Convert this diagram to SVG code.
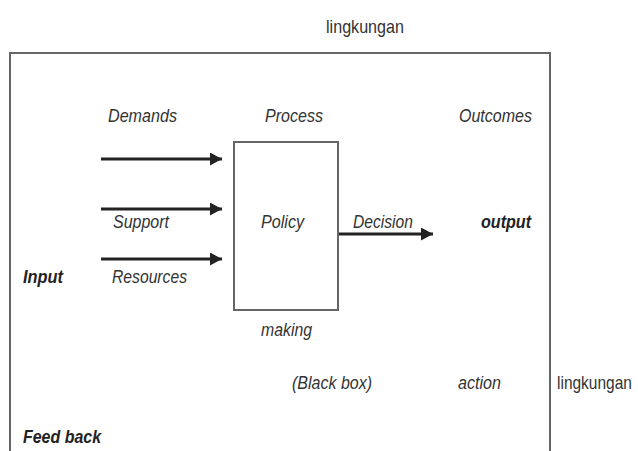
<svg xmlns="http://www.w3.org/2000/svg" width="638" height="451" viewBox="0 0 638 451">
<style>
text{font-family:"Liberation Sans Narrow","Liberation Sans",Arial,sans-serif;font-size:19px;fill:#333;font-style:italic}
.n{font-style:normal}
.b{font-weight:bold;fill:#222}
.frame{fill:none;stroke:#666;stroke-width:2}
.arr{stroke:#222;stroke-width:3;fill:none;marker-end:url(#ah)}
</style>
<defs>
<marker id="ah" markerWidth="12" markerHeight="13" refX="10" refY="5" orient="auto" markerUnits="userSpaceOnUse" viewBox="0 0 10 10" preserveAspectRatio="none">
<path d="M0,0 L10,5 L0,10 Z" fill="#222"/>
</marker>
</defs>
<rect width="638" height="451" fill="#fff"/>
<g id="environment">
<path class="frame" d="M10,451 V53 H550 V451"/>
<text class="n" x="326" y="33" textLength="78" lengthAdjust="spacingAndGlyphs">lingkungan</text>
<text class="n" transform="translate(557,389) scale(1,1.2)" x="0" y="0" style="font-size:15.5px">lingkungan</text>
</g>
<g id="policy-box">
<rect class="frame" x="234" y="142" width="104" height="168"/>
<text x="261" y="228" textLength="43" lengthAdjust="spacingAndGlyphs">Policy</text>
<text x="265" y="122" textLength="58" lengthAdjust="spacingAndGlyphs">Process</text>
<text x="261" y="336" textLength="51" lengthAdjust="spacingAndGlyphs">making</text>
<text x="292" y="389" textLength="80" lengthAdjust="spacingAndGlyphs">(Black box)</text>
</g>
<g id="inputs">
<text class="b" x="23" y="283" textLength="40" lengthAdjust="spacingAndGlyphs">Input</text>
<text x="108" y="122" textLength="69" lengthAdjust="spacingAndGlyphs">Demands</text>
<text x="113" y="228" textLength="56" lengthAdjust="spacingAndGlyphs">Support</text>
<text x="112" y="283" textLength="75" lengthAdjust="spacingAndGlyphs">Resources</text>
</g>
<g id="outputs">
<text x="459" y="122" textLength="73" lengthAdjust="spacingAndGlyphs">Outcomes</text>
<text class="b" x="481" y="228" textLength="50" lengthAdjust="spacingAndGlyphs">output</text>
<text x="458" y="389" textLength="43" lengthAdjust="spacingAndGlyphs">action</text>
<text x="353" y="228" textLength="60" lengthAdjust="spacingAndGlyphs">Decision</text>
</g>
<g id="feedback">
<text class="b" x="23" y="443" textLength="78" lengthAdjust="spacingAndGlyphs">Feed back</text>
</g>
<g id="connectors">
<line class="arr" x1="101" y1="159" x2="222" y2="159"/>
<line class="arr" x1="101" y1="209" x2="222" y2="209"/>
<line class="arr" x1="101" y1="259" x2="222" y2="259"/>
<line class="arr" x1="339" y1="234" x2="433" y2="234"/>
</g>
</svg>
